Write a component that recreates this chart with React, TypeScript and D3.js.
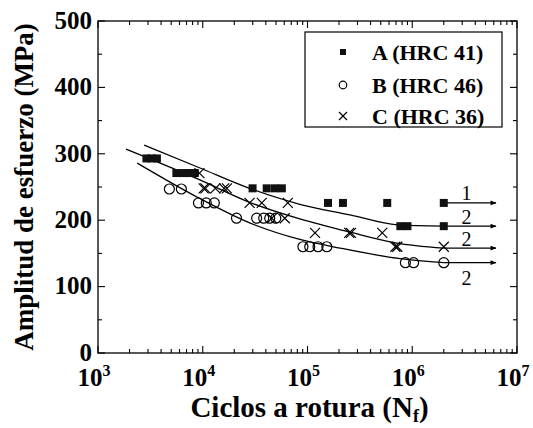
import React, { useEffect, useRef } from "react";
import * as d3 from "d3";

// cycles to failure (N) vs stress amplitude (MPa)
const seriesA: [number, number][] = [
  [2900, 293], [3250, 293], [3650, 293],
  [5600, 271], [6500, 271], [7400, 271], [8400, 271],
  [29900, 248], [40800, 248], [48700, 248], [56900, 248],
  [157000, 226], [218000, 226], [577000, 226], [2000000, 226],
  [770000, 191], [900000, 191], [2000000, 191],
];
const seriesB: [number, number][] = [
  [4800, 247], [6250, 247],
  [9100, 226], [10800, 226], [12900, 226],
  [21000, 203], [32700, 203], [38200, 203], [43600, 203], [49800, 203],
  [90400, 160], [105000, 160], [126000, 160], [153000, 160],
  [860000, 136], [1030000, 136], [2000000, 136],
];
const seriesC: [number, number][] = [
  [9300, 271],
  [10200, 248], [10600, 248], [13200, 248], [16000, 248], [17000, 248],
  [28000, 226], [36600, 226], [64900, 226],
  [45600, 203], [60700, 203],
  [118000, 181], [250000, 181], [260000, 181], [517000, 181],
  [690000, 160], [720000, 160], [2000000, 160],
];

// fitted curves
const curveA: [number, number][] = [
  [2760, 313], [9290, 279], [28000, 248], [84500, 224], [255000, 208], [720000, 193], [2000000, 191],
];
const curveB: [number, number][] = [
  [2370, 286], [9290, 233], [28000, 196], [84500, 171], [205000, 158], [770000, 142], [2000000, 136],
];
const curveC: [number, number][] = [
  [1850, 307], [9290, 261], [28000, 227], [84500, 202], [255000, 182], [690000, 166], [2000000, 158],
];

// run-out arrows
const runoutStart = 2000000;
const runoutEnd = 6300000;
const runoutLevels = [226, 191, 158, 136];
const runoutLabels = ["1", "2", "2", "2"];
const runoutLabelLevels = [241, 205, 171, 113];
const runoutLabelN = 3300000;

const xTickValues = [1e3, 1e4, 1e5, 1e6, 1e7];
const xTickExps = ["3", "4", "5", "6", "7"];
const yTickValues = [0, 100, 200, 300, 400, 500];
const yMinorValues = [50, 150, 250, 350, 450];

const legendNames = ["A (HRC 41)", "B (HRC 46)", "C (HRC 36)"];

const FONT = "Liberation Serif, Times New Roman, Times, DejaVu Serif, serif";

const App = () => {
  const ref = useRef<SVGSVGElement | null>(null);

  useEffect(() => {
    const W = 533, H = 428;
    const m = { left: 98, right: 16, top: 21, bottom: 75 };
    const svg = d3.select(ref.current);
    svg.selectAll("*").remove();

    const x = d3.scaleLog().domain([1e3, 1e7]).range([m.left, W - m.right]);
    const y = d3.scaleLinear().domain([0, 500]).range([H - m.bottom, m.top]);

    svg.append("defs").append("marker")
      .attr("id", "arrowhead")
      .attr("viewBox", "0 0 10 10")
      .attr("refX", 9).attr("refY", 5)
      .attr("markerWidth", 8).attr("markerHeight", 6)
      .attr("markerUnits", "userSpaceOnUse")
      .attr("orient", "auto")
      .append("path").attr("d", "M0,1 L10,5 L0,9 Z").attr("fill", "#000");

    const g = svg.append("g").style("font-family", FONT);

    // frame
    g.append("rect")
      .attr("x", x(1e3)).attr("y", y(500))
      .attr("width", x(1e7) - x(1e3)).attr("height", y(0) - y(500))
      .attr("fill", "none").attr("stroke", "#000").attr("stroke-width", 1.3);

    // ticks, pointing inward on all four sides
    const minorX: number[] = [];
    for (let e = 3; e < 7; e++) for (let k = 2; k <= 9; k++) minorX.push(k * Math.pow(10, e));
    const tickG = g.append("g").attr("stroke", "#000").attr("stroke-width", 1.1);
    xTickValues.forEach(v => {
      tickG.append("line").attr("x1", x(v)).attr("x2", x(v)).attr("y1", y(0)).attr("y2", y(0) - 7);
      tickG.append("line").attr("x1", x(v)).attr("x2", x(v)).attr("y1", y(500)).attr("y2", y(500) + 7);
    });
    minorX.forEach(v => {
      tickG.append("line").attr("x1", x(v)).attr("x2", x(v)).attr("y1", y(0)).attr("y2", y(0) - 4);
      tickG.append("line").attr("x1", x(v)).attr("x2", x(v)).attr("y1", y(500)).attr("y2", y(500) + 4);
    });
    yTickValues.forEach(v => {
      tickG.append("line").attr("x1", x(1e3)).attr("x2", x(1e3) + 7).attr("y1", y(v)).attr("y2", y(v));
      tickG.append("line").attr("x1", x(1e7)).attr("x2", x(1e7) - 7).attr("y1", y(v)).attr("y2", y(v));
    });
    yMinorValues.forEach(v => {
      tickG.append("line").attr("x1", x(1e3)).attr("x2", x(1e3) + 4).attr("y1", y(v)).attr("y2", y(v));
      tickG.append("line").attr("x1", x(1e7)).attr("x2", x(1e7) - 4).attr("y1", y(v)).attr("y2", y(v));
    });

    // tick labels
    yTickValues.forEach(v => {
      g.append("text")
        .attr("x", x(1e3) - 6).attr("y", y(v) - 1)
        .attr("dy", "0.35em")
        .attr("text-anchor", "end")
        .attr("font-weight", "bold").attr("font-size", 25)
        .text(v);
    });
    xTickValues.forEach((v, i) => {
      const t = g.append("text")
        .attr("x", x(v) - 4).attr("y", y(0) + 33)
        .attr("text-anchor", "middle")
        .attr("font-weight", "bold").attr("font-size", 25);
      t.append("tspan").text("10");
      t.append("tspan").attr("dy", -10).attr("font-size", 16).text(xTickExps[i]);
    });

    // axis titles
    const xt = g.append("text")
      .attr("x", (x(1e3) + x(1e7)) / 2 + 2).attr("y", H - 11)
      .attr("text-anchor", "middle")
      .attr("font-weight", "bold").attr("font-size", 29);
    xt.append("tspan").text("Ciclos a rotura (N");
    xt.append("tspan").attr("dy", 5).attr("font-size", 18).text("f");
    xt.append("tspan").attr("dy", -5).text(")");

    g.append("text")
      .attr("transform", `translate(33,${(y(0) + y(500)) / 2}) rotate(-90)`)
      .attr("text-anchor", "middle")
      .attr("font-weight", "bold").attr("font-size", 27)
      .text("Amplitud de esfuerzo (MPa)");

    // fitted curves
    const line = d3.line<[number, number]>()
      .x(d => x(d[0])).y(d => y(d[1]))
      .curve(d3.curveMonotoneX);
    [curveA, curveB, curveC].forEach(c => {
      g.append("path").attr("d", line(c))
        .attr("fill", "none").attr("stroke", "#000").attr("stroke-width", 1.3);
    });

    // run-out arrows
    runoutLevels.forEach((lv, i) => {
      g.append("line")
        .attr("x1", x(runoutStart)).attr("x2", x(runoutEnd))
        .attr("y1", y(lv)).attr("y2", y(lv))
        .attr("stroke", "#000").attr("stroke-width", 1.3)
        .attr("marker-end", "url(#arrowhead)");
      g.append("text")
        .attr("x", x(runoutLabelN)).attr("y", y(runoutLabelLevels[i]))
        .attr("dy", "0.35em")
        .attr("text-anchor", "middle")
        .attr("font-size", 20)
        .text(runoutLabels[i]);
    });

    // markers
    const drawSquare = (sel: any, cx: number, cy: number, s: number) =>
      sel.append("rect").attr("x", cx - s / 2).attr("y", cy - s / 2)
        .attr("width", s).attr("height", s).attr("fill", "#111");
    const drawCircle = (sel: any, cx: number, cy: number, r: number) =>
      sel.append("circle").attr("cx", cx).attr("cy", cy).attr("r", r)
        .attr("fill", "none").attr("stroke", "#000").attr("stroke-width", 1.2);
    const drawCross = (sel: any, cx: number, cy: number, s: number) =>
      sel.append("path")
        .attr("d", `M${cx - s},${cy - s}L${cx + s},${cy + s}M${cx - s},${cy + s}L${cx + s},${cy - s}`)
        .attr("stroke", "#000").attr("stroke-width", 1.2).attr("fill", "none");

    const pts = g.append("g");
    seriesA.forEach(d => drawSquare(pts, x(d[0]), y(d[1]), 8));
    seriesB.forEach(d => drawCircle(pts, x(d[0]), y(d[1]), 5));
    seriesC.forEach(d => drawCross(pts, x(d[0]), y(d[1]), 5));

    // legend
    const lg = g.append("g");
    lg.append("rect")
      .attr("x", 305).attr("y", 32).attr("width", 197).attr("height", 95)
      .attr("fill", "#fff").attr("stroke", "#000").attr("stroke-width", 1.2);
    const rowY = [52, 85, 116];
    drawSquare(lg, 343, rowY[0], 6);
    drawCircle(lg, 343, rowY[1], 3.8);
    drawCross(lg, 343, rowY[2], 4);
    legendNames.forEach((n, i) => {
      lg.append("text")
        .attr("x", 372).attr("y", rowY[i])
        .attr("dy", "0.35em")
        .attr("font-weight", "bold").attr("font-size", 22)
        .text(n);
    });
  }, []);

  return (
    <svg
      ref={ref}
      width={533}
      height={428}
      style={{ position: "absolute", left: 0, top: 0, background: "#fff" }}
    />
  );
};

export default App;
